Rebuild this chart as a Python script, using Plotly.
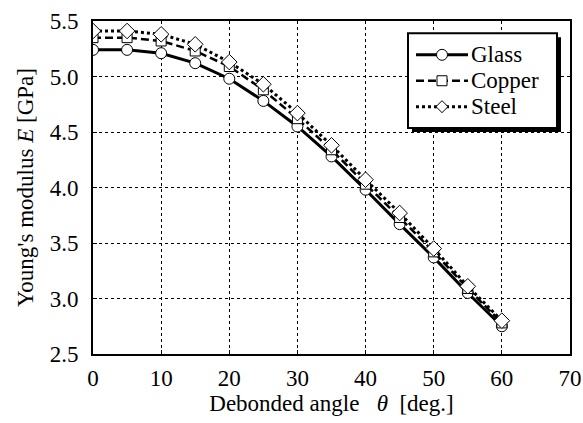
import plotly.graph_objects as go

theta = [0, 5, 10, 15, 20, 25, 30, 35, 40, 45, 50, 55, 60]
glass = [5.24, 5.24, 5.21, 5.12, 4.98, 4.78, 4.55, 4.28, 3.98, 3.67, 3.37, 3.05, 2.75]
copper = [5.35, 5.35, 5.32, 5.23, 5.09, 4.88, 4.62, 4.34, 4.03, 3.73, 3.42, 3.09, 2.78]
steel = [5.41, 5.41, 5.38, 5.29, 5.13, 4.93, 4.67, 4.38, 4.07, 3.77, 3.45, 3.11, 2.80]
names = ["Glass", "Copper", "Steel"]

x_ticks = [0, 10, 20, 30, 40, 50, 60, 70]
y_ticks = [2.5, 3.0, 3.5, 4.0, 4.5, 5.0, 5.5]

FONT = "Liberation Serif"
FS = 23
W, H = 583, 423
ML, MR, MT, MB = 93, 13, 20.6, 68.5
PW, PH = W - ML - MR, H - MT - MB


def px(x):
    return (x - ML) / PW


def py(y):
    return 1 - (y - MT) / PH


fig = go.Figure()
styles = [
    ("solid", "circle", 3, 11),
    ("8px,4px", "square", 2.5, 10),
    ("3px,3px", "diamond", 3, 12),
]
for name, ys, (dash, sym, lw, ms) in zip(names, [glass, copper, steel], styles):
    fig.add_trace(go.Scatter(
        x=theta, y=ys, name=name, mode="lines+markers", showlegend=False,
        line=dict(color="black", width=lw, dash=dash),
        marker=dict(symbol=sym, size=ms, color="white",
                    line=dict(color="black", width=1)),
    ))

axis_common = dict(
    showline=True, linecolor="black", linewidth=2, mirror=True,
    showgrid=True, gridcolor="black", gridwidth=1, griddash="3px,3px",
    ticks="inside", ticklen=4, tickcolor="black",
    tickfont=dict(family=FONT, size=FS, color="black"),
    zeroline=False, automargin=False, ticklabeloverflow="allow",
)

fig.update_xaxes(range=[0, 70], tickvals=x_ticks,
                 ticklabelstandoff=2,
                 title=dict(text="Debonded angle   <i>θ</i>  [deg.]",
                            font=dict(family=FONT, size=FS, color="black"),
                            standoff=4),
                 **axis_common)
fig.update_yaxes(range=[2.5, 5.5], tickvals=y_ticks,
                 ticktext=[f"{v:.1f}" for v in y_ticks],
                 ticklabelstandoff=8,
                 title=dict(text="Young's modulus <i>E</i> [GPa]",
                            font=dict(family=FONT, size=FS, color="black"),
                            standoff=10),
                 **axis_common)

# ---- hand-drawn legend box (with drop shadow) ----
bx0, bx1, by0, by1 = 408, 557, 33, 128
sh = 4
fig.add_shape(type="rect", xref="paper", yref="paper",
              x0=px(bx0 + sh), x1=px(bx1 + sh), y0=py(by1 + sh), y1=py(by0 + sh),
              fillcolor="black", line=dict(width=0), layer="above")
fig.add_shape(type="rect", xref="paper", yref="paper",
              x0=px(bx0), x1=px(bx1), y0=py(by1), y1=py(by0),
              fillcolor="white", line=dict(color="black", width=2), layer="above")

rows = [54.5, 80.5, 106.5]
lx0, lx1, mx = 416, 468, 442
for (dash, sym, lw, ms), name, ry in zip(styles, names, rows):
    fig.add_shape(type="line", xref="paper", yref="paper",
                  x0=px(lx0), x1=px(lx1), y0=py(ry), y1=py(ry),
                  line=dict(color="black", width=lw, dash=dash), layer="above")
    r = ms / 2
    if sym == "circle":
        fig.add_shape(type="circle", xref="paper", yref="paper",
                      x0=px(mx - r), x1=px(mx + r), y0=py(ry + r), y1=py(ry - r),
                      fillcolor="white", line=dict(color="black", width=1),
                      layer="above")
    elif sym == "square":
        fig.add_shape(type="rect", xref="paper", yref="paper",
                      x0=px(mx - r), x1=px(mx + r), y0=py(ry + r), y1=py(ry - r),
                      fillcolor="white", line=dict(color="black", width=1),
                      layer="above")
    else:
        path = (f"M {px(mx - r)},{py(ry)} L {px(mx)},{py(ry - r)} "
                f"L {px(mx + r)},{py(ry)} L {px(mx)},{py(ry + r)} Z")
        fig.add_shape(type="path", xref="paper", yref="paper", path=path,
                      fillcolor="white", line=dict(color="black", width=1),
                      layer="above")
    fig.add_annotation(xref="paper", yref="paper", x=px(470), y=py(ry),
                       xanchor="left", yanchor="middle", showarrow=False,
                       text=name, borderpad=0,
                       font=dict(family=FONT, size=23, color="black"))

fig.update_layout(
    width=W, height=H,
    margin=dict(l=ML, r=MR, t=MT, b=MB, pad=0),
    paper_bgcolor="white", plot_bgcolor="white",
    font=dict(family=FONT, size=FS, color="black"),
    showlegend=False,
)

fig.write_html("out.html")
